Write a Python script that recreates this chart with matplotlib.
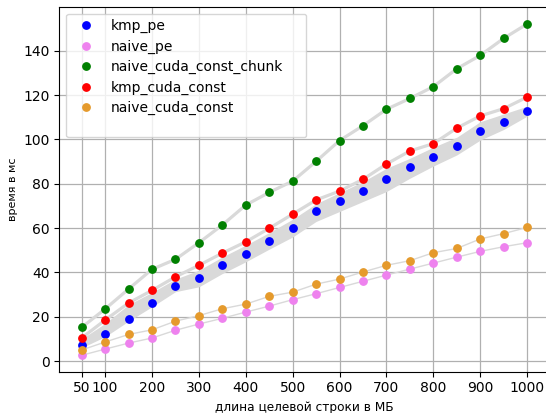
import matplotlib
matplotlib.use("Agg")
import matplotlib.pyplot as plt
from matplotlib.lines import Line2D

sizes = [50, 100, 150, 200, 250, 300, 350, 400, 450, 500,
         550, 600, 650, 700, 750, 800, 850, 900, 950, 1000]
xticks = [50, 100, 200, 300, 400, 500, 600, 700, 800, 900, 1000]

kmp_pe = [7.1, 12.0, 19.0, 26.2, 34.0, 37.3, 43.3, 48.4, 54.3, 60.2,
          67.6, 72.1, 76.7, 82.3, 87.4, 92.2, 96.9, 103.9, 108.0, 112.8]
kmp_pe_low = [6.0, 11.0, 18.0, 24.5, 31.3, 33.5, 39.5, 44.8, 50.5, 56.0,
              63.0, 67.5, 72.0, 76.5, 82.5, 88.0, 93.0, 99.7, 104.5, 110.5]
kmp_pe_high = [10.0, 17.0, 25.5, 31.0, 37.0, 41.0, 47.0, 52.3, 58.0, 64.0,
               71.0, 76.0, 81.0, 87.0, 91.5, 96.5, 101.0, 108.0, 111.5, 115.0]
naive_pe = [2.6, 5.4, 8.1, 10.4, 13.9, 16.7, 19.3, 22.1, 24.8, 27.7,
            30.4, 33.2, 36.0, 38.8, 41.5, 44.2, 46.9, 49.5, 51.6, 53.4]
naive_cuda_const_chunk = [15.2, 23.5, 32.5, 41.4, 45.9, 53.4, 61.4, 70.4, 76.1, 81.2,
                          90.1, 99.5, 106.2, 113.6, 118.5, 123.8, 131.9, 137.9, 145.6, 152.1]
kmp_cuda_const = [10.4, 18.5, 26.2, 31.9, 38.0, 43.2, 48.7, 53.8, 59.9, 66.3,
                  72.7, 76.7, 82.0, 88.9, 94.8, 98.1, 105.1, 110.6, 113.9, 119.1]
naive_cuda_const = [5.0, 8.6, 12.0, 14.1, 18.0, 20.5, 23.6, 25.7, 29.2, 31.1,
                    34.7, 37.0, 40.2, 43.2, 45.3, 48.9, 50.8, 55.1, 57.5, 60.3]

series = [
    ("kmp_pe", kmp_pe, "#0000ff", 2.0),
    ("naive_pe", naive_pe, "#ee82ee", 1.0),
    ("naive_cuda_const_chunk", naive_cuda_const_chunk, "#008000", 2.3),
    ("kmp_cuda_const", kmp_cuda_const, "#ff0000", 2.3),
    ("naive_cuda_const", naive_cuda_const, "#e59a2c", 1.0),
]

gray = "#d9d9d9"

fig = plt.figure(figsize=(5.46, 4.13), dpi=100)
ax = fig.add_axes([0.1088, 0.1, 0.8974, 0.8838])

ax.fill_between(sizes, kmp_pe_low, kmp_pe_high, color=gray, lw=0, zorder=1)
for name, vals, col, lw in series:
    ax.plot(sizes, vals, color=gray, lw=lw, zorder=2, solid_capstyle="round")

handles = []
for name, vals, col, lw in series:
    h, = ax.plot(sizes, vals, linestyle="none", marker="o", markersize=5.3,
                 color=col, label=name, zorder=3)
    handles.append(h)
handles.append(Line2D([], [], linestyle="none", marker="none"))
labels = [s[0] for s in series] + [" " * 95]

ax.set_xlim(2.5, 1047.5)
ax.set_ylim(-4.8, 159.9)
ax.set_xticks(xticks)
ax.set_xticklabels([str(t) for t in xticks])
ax.set_yticks([0, 20, 40, 60, 80, 100, 120, 140])
ax.tick_params(labelsize=10)
ax.grid(True, color="#b0b0b0", lw=0.9)
ax.set_axisbelow(True)
ax.set_xlabel("длина целевой строки в МБ", fontsize=8.7)
ax.set_ylabel("время в мс", fontsize=8)
leg = ax.legend(handles, labels, loc="upper left", fontsize=10, labelspacing=0.45)
leg.get_texts()[5].set_fontsize(4.5)

fig.savefig("out.png", dpi=100)
